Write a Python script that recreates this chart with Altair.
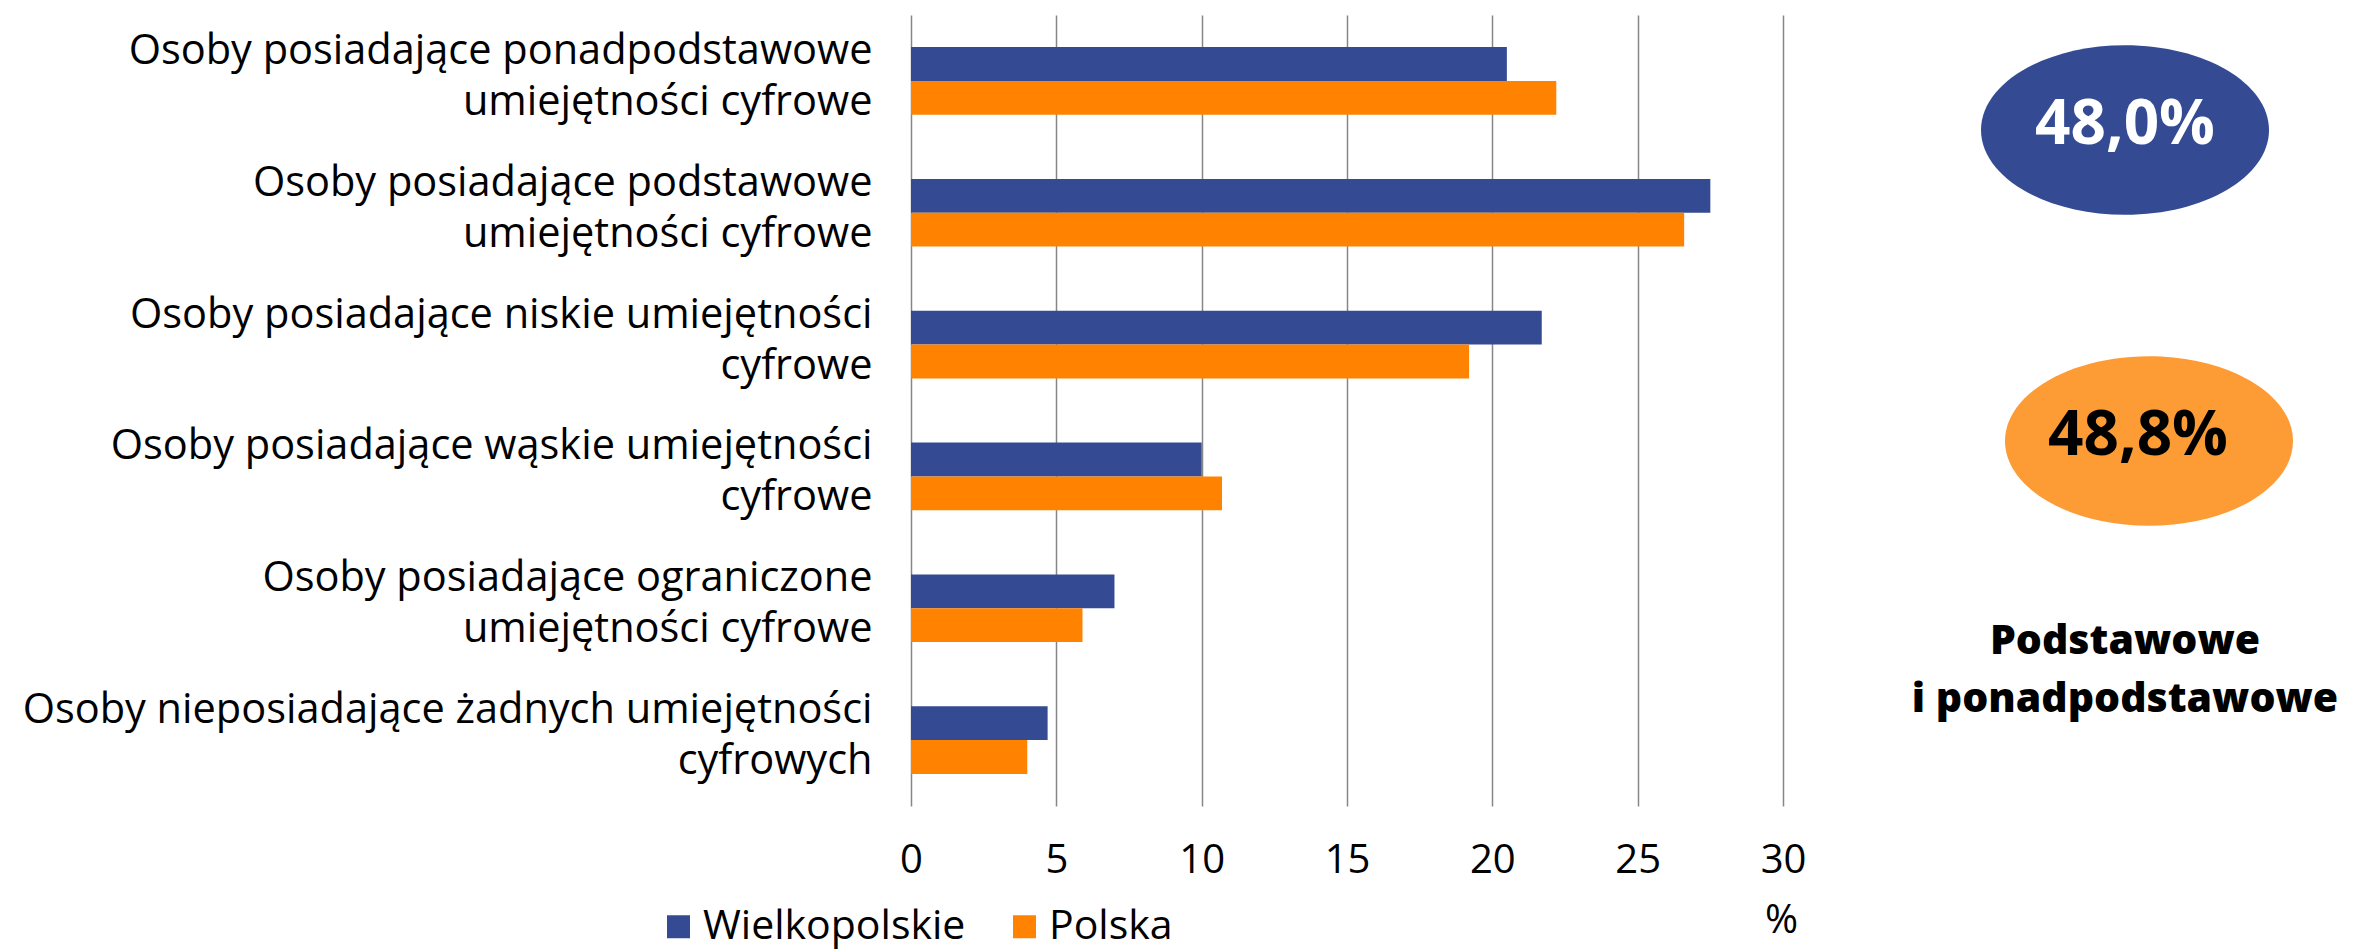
import altair as alt
import pandas as pd

# ---------------- data ----------------
categories = [
    "Osoby posiadające ponadpodstawowe\numiejętności cyfrowe",
    "Osoby posiadające podstawowe\numiejętności cyfrowe",
    "Osoby posiadające niskie umiejętności\ncyfrowe",
    "Osoby posiadające wąskie umiejętności\ncyfrowe",
    "Osoby posiadające ograniczone\numiejętności cyfrowe",
    "Osoby nieposiadające żadnych umiejętności\ncyfrowych",
]
series = ["Wielkopolskie", "Polska"]
wielkopolskie = [20.5, 27.5, 21.7, 10.0, 7.0, 4.7]
polska = [22.2, 26.6, 19.2, 10.7, 5.9, 4.0]
x_ticks = [0, 5, 10, 15, 20, 25, 30]
unit_label = "%"
summary_label = "Podstawowe\ni ponadpodstawowe"

# ---------------- styles ----------------
FONT = "Open Sans"
BLUE = "#344B93"
ORANGE = "#FF8300"
ORANGE_LIGHT = "#FD9B35"
GRID = "#868686"

rows = []
for i, c in enumerate(categories):
    rows.append({"category": c, "series": series[0], "value": wielkopolskie[i]})
    rows.append({"category": c, "series": series[1], "value": polska[i]})
df = pd.DataFrame(rows)

# share of basic + above-basic skills (first two categories)
def fmt(v):
    return f"{v:.1f}".replace(".", ",") + "%"

tot_w = pd.DataFrame({"label": [fmt(wielkopolskie[0] + wielkopolskie[1])]})
tot_p = pd.DataFrame({"label": [fmt(polska[0] + polska[1])]})
summ = pd.DataFrame({"label": [summary_label]})

ELLIPSE = "M-1,0 A1,0.589 0 1,1 1,0 A1,0.589 0 1,1 -1,0 Z"

bars = alt.Chart(df).mark_bar().encode(
    y=alt.Y(
        "category:N",
        sort=categories,
        scale=alt.Scale(paddingInner=0.487, paddingOuter=0.2435),
        axis=alt.Axis(
            title=None,
            labelExpr="split(datum.value, '\\n')",
            labelFont=FONT,
            labelFontSize=41.5,
            labelLineHeight=51,
            labelOffset=-29,
            labelPadding=39,
            labelLimit=2000,
            labelColor="black",
            labelAlign="right",
            labelBaseline="middle",
            ticks=False,
            tickSize=0,
            domain=False,
            grid=False,
        ),
    ),
    yOffset=alt.YOffset("series:N", sort=series),
    x=alt.X(
        "value:Q",
        scale=alt.Scale(domain=[0, 30], nice=False),
        axis=alt.Axis(
            values=x_ticks,
            format="d",
            title=unit_label,
            titleX=870,
            titleY=114,
            titleAlign="center",
            titleBaseline="middle",
            titleAngle=0,
            titleFont=FONT,
            titleFontSize=40,
            titleFontWeight="normal",
            titleColor="black",
            labelFont=FONT,
            labelFontSize=40,
            labelColor="black",
            labelPadding=54,
            labelBaseline="middle",
            labelFlush=False,
            labelOverlap=False,
            ticks=False,
            tickSize=0,
            domain=False,
            grid=True,
            gridColor=GRID,
            gridWidth=1.5,
        ),
    ),
    color=alt.Color(
        "series:N",
        sort=series,
        scale=alt.Scale(domain=series, range=[BLUE, ORANGE]),
        legend=alt.Legend(
            title=None,
            orient="none",
            legendX=-253,
            legendY=891,
            direction="horizontal",
            symbolType="square",
            symbolSize=529,
            symbolStrokeWidth=0,
            symbolOpacity=1,
            labelFont=FONT,
            labelFontSize=41,
            labelColor="black",
            labelOffset=4,
            labelLimit=1000,
            columnPadding=38,
            padding=0,
        ),
    ),
)

ell_w = alt.Chart(tot_w).mark_point(
    shape=ELLIPSE, size=288 * 288, filled=True, opacity=1, strokeWidth=0
).encode(x=alt.value(1214), y=alt.value(115), fill=alt.value(BLUE))

txt_w = alt.Chart(tot_w).mark_text(
    font=FONT, fontSize=62, fontWeight="bold", align="center", baseline="middle"
).encode(x=alt.value(1214), y=alt.value(110), text="label:N", color=alt.value("white"))

ell_p = alt.Chart(tot_p).mark_point(
    shape=ELLIPSE, size=288 * 288, filled=True, opacity=1, strokeWidth=0
).encode(x=alt.value(1238), y=alt.value(426), fill=alt.value(ORANGE_LIGHT))

txt_p = alt.Chart(tot_p).mark_text(
    font=FONT, fontSize=62, fontWeight="bold", align="center", baseline="middle"
).encode(x=alt.value(1227), y=alt.value(421), text="label:N", color=alt.value("black"))

txt_s = alt.Chart(summ).mark_text(
    font=FONT, fontSize=41, fontWeight=800, align="center", baseline="alphabetic",
    lineBreak="\n", lineHeight=58,
).encode(x=alt.value(1214), y=alt.value(639), text="label:N", color=alt.value("black"))

chart = alt.layer(bars, ell_w, txt_w, ell_p, txt_p, txt_s).properties(
    width=872,
    height=791,
    autosize=alt.AutoSizeParams(type="none"),
    padding={"left": 903, "top": 7, "right": 562, "bottom": 146},
    background="white",
).configure_view(stroke=None)

chart.save("out.html", embed_options={"renderer": "svg", "actions": False})
